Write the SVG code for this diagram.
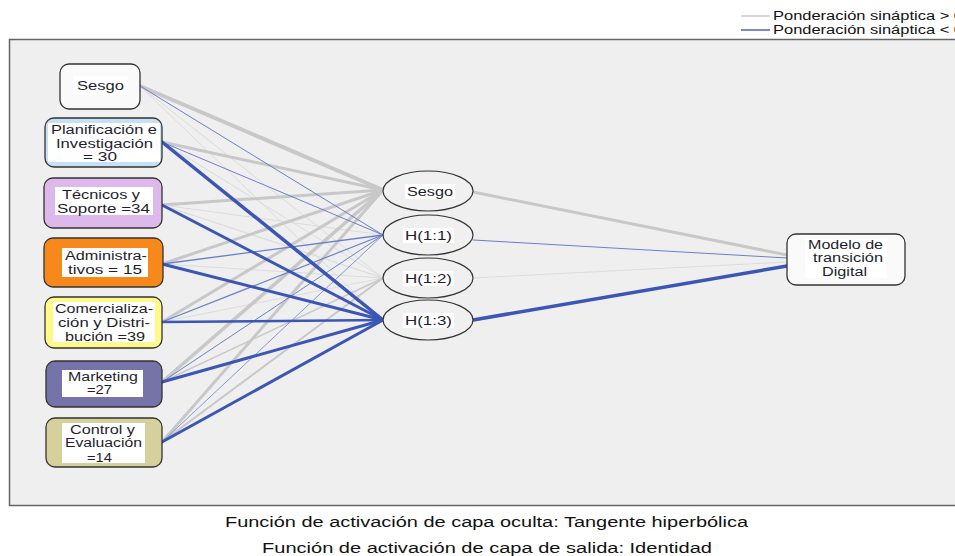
<svg xmlns="http://www.w3.org/2000/svg" width="955" height="556" viewBox="0 0 955 556">
<style>
.t{font-family:"Liberation Sans",Arial,sans-serif;font-size:12.5px;fill:#1e1e2e;text-anchor:middle;}
.lg{font-family:"Liberation Sans",Arial,sans-serif;font-size:12px;fill:#111;}
.ft{font-family:"Liberation Sans",Arial,sans-serif;font-size:14px;fill:#111;text-anchor:middle;}
.box{stroke:#333;stroke-width:1.3;}
.bg{fill:#fff;stroke:none;}
.hid{fill:#f0f0f0;stroke:#333;stroke-width:1.2;}
.g{stroke:#c8c8c8;fill:none;stroke-linecap:round;}
.gl{stroke:#dcdcdc;fill:none;stroke-linecap:round;}
.b{stroke:#3b56b5;fill:none;stroke-linecap:round;}
.bl{stroke:#6b80cc;fill:none;stroke-linecap:round;}
</style>
<rect x="0" y="0" width="955" height="556" fill="#fff"/>
<g id="legend">
<line x1="741" y1="16" x2="770" y2="16" stroke="#c8c8c8" stroke-width="1.5"/>
<text class="lg" x="773" y="20" textLength="190" lengthAdjust="spacingAndGlyphs">Ponderación sináptica &gt; 0</text>
<line x1="741" y1="30" x2="770" y2="30" stroke="#4a62b8" stroke-width="1.5"/>
<text class="lg" x="773" y="34" textLength="190" lengthAdjust="spacingAndGlyphs">Ponderación sináptica &lt; 0</text>
</g>
<rect x="9.5" y="39.5" width="960" height="466" fill="#efefef" stroke="#666" stroke-width="1.5"/>
<g id="connectors">
<!-- input bias -->
<line class="g" x1="140" y1="86" x2="383" y2="190" stroke-width="4"/>
<line class="gl" x1="140" y1="86" x2="383" y2="278" stroke-width="1"/>
<line class="gl" x1="140" y1="86" x2="383" y2="320" stroke-width="1"/>
<!-- Planificacion -->
<line class="g" x1="162" y1="142" x2="383" y2="190" stroke-width="3"/>
<line class="gl" x1="162" y1="142" x2="383" y2="278" stroke-width="1"/>
<!-- Tecnicos -->
<line class="g" x1="162" y1="205" x2="383" y2="190" stroke-width="3"/>
<line class="gl" x1="162" y1="205" x2="383" y2="235" stroke-width="1"/>
<line class="gl" x1="162" y1="205" x2="383" y2="278" stroke-width="1.2"/>
<!-- Admin -->
<line class="g" x1="162" y1="264" x2="383" y2="190" stroke-width="3"/>
<line class="gl" x1="162" y1="264" x2="383" y2="278" stroke-width="1"/>
<!-- Comercial -->
<line class="g" x1="162" y1="322" x2="383" y2="190" stroke-width="3"/>
<line class="gl" x1="162" y1="322" x2="383" y2="278" stroke-width="1"/>
<!-- Marketing -->
<line class="g" x1="162" y1="382" x2="383" y2="190" stroke-width="3.5"/>
<line class="g" x1="162" y1="382" x2="383" y2="278" stroke-width="1.5"/>
<!-- Control -->
<line class="g" x1="162" y1="442" x2="383" y2="190" stroke-width="3"/>
<line class="g" x1="162" y1="442" x2="383" y2="278" stroke-width="2"/>
<!-- blue thin -->
<line class="bl" x1="140" y1="86" x2="383" y2="235" stroke-width="1"/>
<line class="bl" x1="162" y1="142" x2="383" y2="235" stroke-width="1"/>
<line class="bl" x1="162" y1="264" x2="383" y2="235" stroke-width="1.3"/>
<line class="bl" x1="162" y1="322" x2="383" y2="235" stroke-width="1.2"/>
<line class="bl" x1="162" y1="382" x2="383" y2="235" stroke-width="1"/>
<line class="bl" x1="162" y1="442" x2="383" y2="235" stroke-width="0.8"/>
<!-- blue thick to H(1:3) -->
<line class="b" x1="162" y1="142" x2="383" y2="320" stroke-width="3.5"/>
<line class="b" x1="162" y1="205" x2="383" y2="320" stroke-width="3"/>
<line class="b" x1="162" y1="264" x2="383" y2="320" stroke-width="3"/>
<line class="b" x1="162" y1="322" x2="383" y2="320" stroke-width="2.5"/>
<line class="b" x1="162" y1="382" x2="383" y2="320" stroke-width="3"/>
<line class="b" x1="162" y1="442" x2="383" y2="320" stroke-width="3"/>
<!-- hidden to output -->
<line class="g" x1="473" y1="192" x2="787" y2="255" stroke-width="3"/>
<line class="gl" x1="473" y1="278" x2="787" y2="262" stroke-width="1"/>
<line class="bl" x1="473" y1="240" x2="787" y2="258" stroke-width="1"/>
<line class="b" x1="473" y1="320" x2="787" y2="266" stroke-width="3.5"/>
</g>
<g id="in-sesgo">
<rect class="box" x="60" y="64" width="80" height="45" rx="9" fill="#fafafa"/>
<rect class="bg" x="73" y="76" width="55" height="19"/>
<text class="t" x="100.5" y="90" textLength="47" lengthAdjust="spacingAndGlyphs">Sesgo</text>
</g>
<g id="in-planificacion">
<rect class="box" x="45" y="118" width="117" height="49" rx="9" fill="#c6e0f6"/>
<rect class="bg" x="48" y="123" width="112" height="39"/>
<text class="t" x="104" y="134" textLength="106" lengthAdjust="spacingAndGlyphs">Planificación e</text>
<text class="t" x="104.5" y="148" textLength="97" lengthAdjust="spacingAndGlyphs">Investigación</text>
<text class="t" x="100" y="161" textLength="34" lengthAdjust="spacingAndGlyphs">= 30</text>
</g>
<g id="in-tecnicos">
<rect class="box" x="44" y="178" width="118" height="50" rx="9" fill="#dcb9ea"/>
<rect class="bg" x="55" y="187" width="98" height="28"/>
<text class="t" x="101" y="199" textLength="78" lengthAdjust="spacingAndGlyphs">Técnicos y</text>
<text class="t" x="103.5" y="213" textLength="93" lengthAdjust="spacingAndGlyphs">Soporte =34</text>
</g>
<g id="in-administrativos">
<rect class="box" x="44" y="238" width="119" height="49" rx="9" fill="#f7891c"/>
<rect class="bg" x="62" y="248" width="86" height="29"/>
<text class="t" x="106" y="260" textLength="82" lengthAdjust="spacingAndGlyphs">Administra-</text>
<text class="t" x="105" y="274" textLength="74" lengthAdjust="spacingAndGlyphs">tivos = 15</text>
</g>
<g id="in-comercializacion">
<rect class="box" x="45" y="297" width="117" height="51" rx="9" fill="#fff98c"/>
<rect class="bg" x="53" y="302" width="102" height="40"/>
<text class="t" x="104" y="313" textLength="98" lengthAdjust="spacingAndGlyphs">Comercializa-</text>
<text class="t" x="104" y="327" textLength="92" lengthAdjust="spacingAndGlyphs">ción y Distri-</text>
<text class="t" x="105" y="341" textLength="80" lengthAdjust="spacingAndGlyphs">bución =39</text>
</g>
<g id="in-marketing">
<rect class="box" x="46" y="361" width="116" height="46" rx="9" fill="#7474a8"/>
<rect class="bg" x="62" y="370" width="81" height="27"/>
<text class="t" x="103" y="381" textLength="70" lengthAdjust="spacingAndGlyphs">Marketing</text>
<text class="t" x="99.5" y="394" textLength="25" lengthAdjust="spacingAndGlyphs">=27</text>
</g>
<g id="in-control">
<rect class="box" x="46" y="418" width="116" height="49" rx="9" fill="#d6d09d"/>
<rect class="bg" x="62" y="423" width="83" height="40"/>
<text class="t" x="102.5" y="434" textLength="65" lengthAdjust="spacingAndGlyphs">Control y</text>
<text class="t" x="103.5" y="447" textLength="77" lengthAdjust="spacingAndGlyphs">Evaluación</text>
<text class="t" x="99.5" y="462" textLength="25" lengthAdjust="spacingAndGlyphs">=14</text>
</g>
<g id="h-sesgo">
<ellipse class="hid" cx="428" cy="191" rx="45" ry="20"/>
<rect class="bg" x="405" y="184" width="50" height="15"/>
<text class="t" x="430" y="196" textLength="46" lengthAdjust="spacingAndGlyphs">Sesgo</text>
</g>
<g id="h-1-1">
<ellipse class="hid" cx="428" cy="235" rx="45" ry="20"/>
<rect class="bg" x="403" y="228" width="51" height="15"/>
<text class="t" x="428.5" y="240" textLength="47" lengthAdjust="spacingAndGlyphs">H(1:1)</text>
</g>
<g id="h-1-2">
<ellipse class="hid" cx="428" cy="278" rx="45" ry="20"/>
<rect class="bg" x="403" y="271" width="51" height="15"/>
<text class="t" x="428.5" y="283" textLength="47" lengthAdjust="spacingAndGlyphs">H(1:2)</text>
</g>
<g id="h-1-3">
<ellipse class="hid" cx="428" cy="320" rx="45" ry="20"/>
<rect class="bg" x="403" y="313" width="51" height="15"/>
<text class="t" x="428.5" y="325" textLength="47" lengthAdjust="spacingAndGlyphs">H(1:3)</text>
</g>
<g id="out-modelo">
<rect class="box" x="787" y="234" width="118" height="51" rx="9" fill="#fafafa"/>
<rect class="bg" x="805" y="239" width="82" height="39"/>
<text class="t" x="845.5" y="249" textLength="75" lengthAdjust="spacingAndGlyphs">Modelo de</text>
<text class="t" x="848" y="262" textLength="70" lengthAdjust="spacingAndGlyphs">transición</text>
<text class="t" x="844.5" y="276" textLength="45" lengthAdjust="spacingAndGlyphs">Digital</text>
</g>
<g id="footer">
<text class="ft" x="486.5" y="527" textLength="523" lengthAdjust="spacingAndGlyphs">Función de activación de capa oculta: Tangente hiperbólica</text>
<text class="ft" x="487" y="553" textLength="450" lengthAdjust="spacingAndGlyphs">Función de activación de capa de salida: Identidad</text>
</g>
</svg>
